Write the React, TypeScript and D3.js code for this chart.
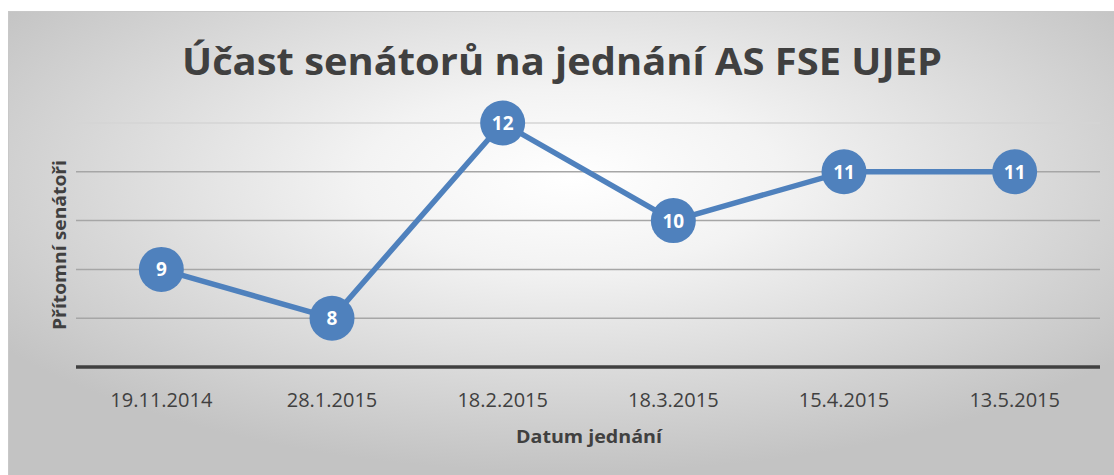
import React from "react";
import * as d3 from "d3";

const categories = ["19.11.2014", "28.1.2015", "18.2.2015", "18.3.2015", "15.4.2015", "13.5.2015"];
const values = [9, 8, 12, 10, 11, 11];
const yTicks = [7, 8, 9, 10, 11, 12];
const title = "Účast senátorů na jednání AS FSE UJEP";
const xTitle = "Datum jednání";
const yTitle = "Přítomní senátoři";

const W = 1114;
const H = 475;

export default function App() {
  const x = d3.scaleBand<string>().domain(categories).range([76, 1100]);
  const y = d3.scaleLinear().domain([7, 12]).range([367, 123]);
  const line = d3
    .line<number>()
    .x((_, i) => (x(categories[i]) as number) + x.bandwidth() / 2)
    .y((d) => y(d));
  const font = "'Open Sans', 'Noto Sans', sans-serif";
  return (
    <svg width={W} height={H} style={{ position: "absolute", left: 0, top: 0 }} fontFamily={font}>
      <defs>
        <radialGradient id="bg" cx="0.5" cy="0.35" r="0.62" gradientUnits="objectBoundingBox">
          <stop offset="0" stopColor="#ffffff" />
          <stop offset="0.3" stopColor="#f3f3f3" />
          <stop offset="1" stopColor="#c3c3c3" />
        </radialGradient>
      </defs>
      <rect x={0} y={0} width={W} height={H} fill="#ffffff" />
      <rect x={8.5} y={11.5} width={W + 10} height={H} fill="url(#bg)" stroke="#c8c8c8" strokeWidth={1} />
      <text x={562} y={75} textAnchor="middle" fontSize={38} fontWeight="bold" fill="#404040" textLength={760} lengthAdjust="spacingAndGlyphs">
        {title}
      </text>
      {yTicks.slice(1).map((t) => (
        <line key={t} x1={76} x2={1100} y1={y(t)} y2={y(t)} stroke={t === 12 ? "#d4d4d4" : "#a6a6a6"} strokeWidth={1.5} />
      ))}
      <line x1={76} x2={1100} y1={y(7)} y2={y(7)} stroke="#404040" strokeWidth={3.5} />
      {categories.map((c) => (
        <text key={c} x={(x(c) as number) + x.bandwidth() / 2} y={407} textAnchor="middle" fontSize={20} fill="#404040">
          {c}
        </text>
      ))}
      <text x={589} y={443} textAnchor="middle" fontSize={17} fontWeight="bold" fill="#404040" textLength={146} lengthAdjust="spacingAndGlyphs">
        {xTitle}
      </text>
      <text transform="translate(66,245) rotate(-90)" textAnchor="middle" fontSize={17} fontWeight="bold" fill="#404040" textLength={170} lengthAdjust="spacingAndGlyphs">
        {yTitle}
      </text>
      <path d={line(values) || ""} fill="none" stroke="#4f81bd" strokeWidth={5.5} strokeLinejoin="round" />
      {values.map((v, i) => {
        const cx = (x(categories[i]) as number) + x.bandwidth() / 2;
        const cy = y(v);
        return (
          <g key={i}>
            <circle cx={cx} cy={cy} r={22.5} fill="#4f81bd" />
            <text x={cx} y={cy + 7} textAnchor="middle" fontSize={19} fontWeight="bold" fill="#ffffff">
              {v}
            </text>
          </g>
        );
      })}
    </svg>
  );
}
